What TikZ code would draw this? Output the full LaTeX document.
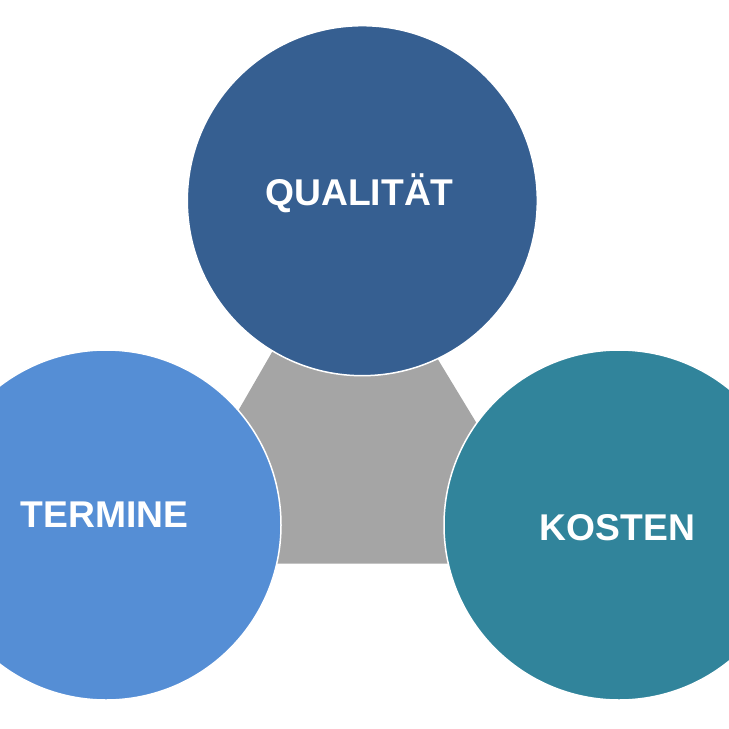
\documentclass[tikz,border=0pt]{standalone}
\usepackage{fontspec}
\setmainfont{Liberation Sans}
\usepackage{tikz}
\usetikzlibrary{positioning}

\definecolor{qualblue}{HTML}{365F91}
\definecolor{termblue}{HTML}{558ED5}
\definecolor{kostteal}{HTML}{31849B}
\definecolor{hexgray}{HTML}{A5A5A5}

\begin{document}
\begin{tikzpicture}[
x=1bp,
y=-1bp,
goal/.style={
  circle,
  draw=white,
  line width=1.5bp,
  minimum size=350bp,
  inner sep=0pt
  },
lbl/.style={
  text=white,
  anchor=base,
  inner sep=0pt,
  font=\bfseries\fontsize{37.4}{40}\selectfont
  }
]
\useasboundingbox (0,0) rectangle (729,729);
\clip (0,0) rectangle (729,729);
% gray middle piece
\fill[hexgray] (284.8,330) -- (420.1,330) -- (505,470) -- (470,563.5)
  -- (250,563.5) -- (204,470) -- cycle;
% the three circles
\node[goal,fill=qualblue] (qual) at (362.3,200.7) {};
\node[goal,fill=termblue] (term) at (106,525) {};
\node[goal,fill=kostteal] (kost) at (619,525) {};
\node[lbl] (qualtxt) at (359.5,205) {QUALITÄT};
\node[lbl] (termtxt) at (104.5,527) {TERMINE};
\node[lbl] (kosttxt) at (617.5,540) {KOSTEN};
\end{tikzpicture}
\end{document}
